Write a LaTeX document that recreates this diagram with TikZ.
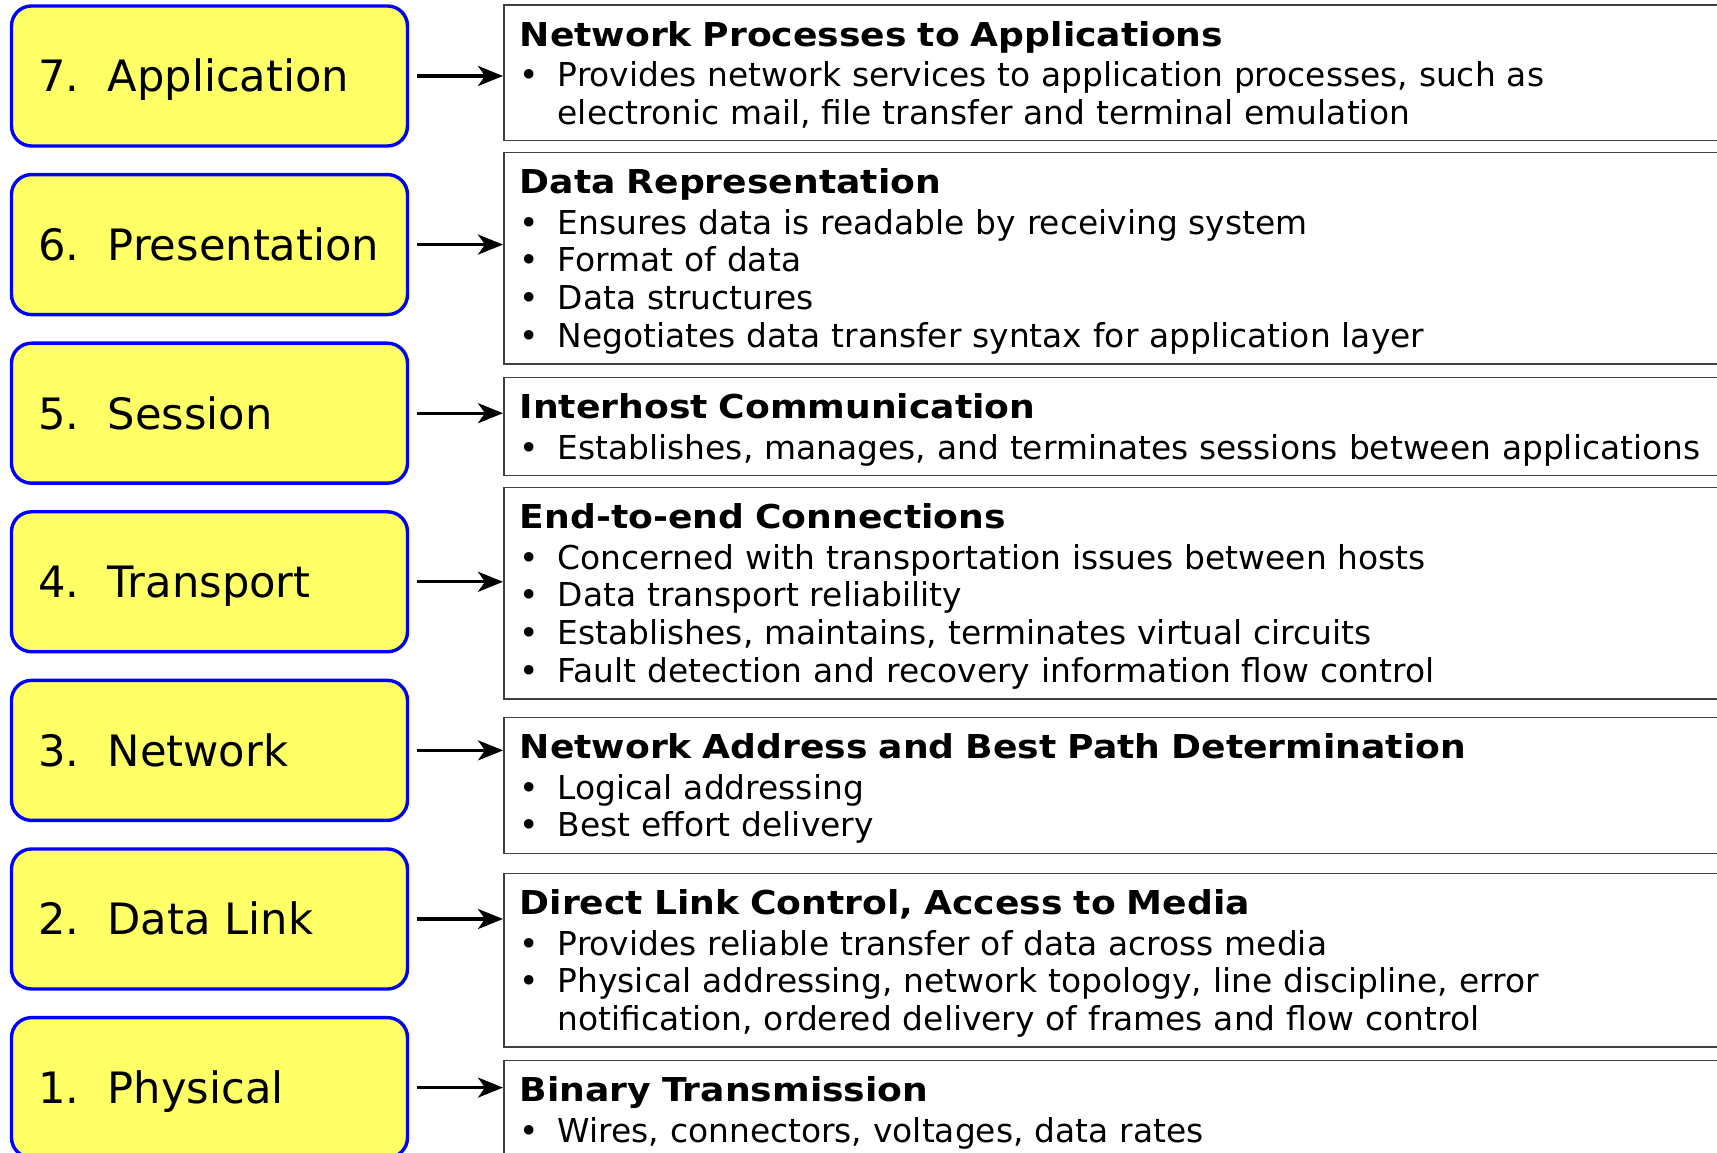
\documentclass[tikz,border=0pt]{standalone}
\usepackage{fontspec}
\setmainfont{DejaVu Sans}[BoldFeatures={FakeStretch=1.1}]
\usetikzlibrary{arrows.meta}
\definecolor{layerfill}{HTML}{FFFF66}
\newcommand{\bltitle}[1]{\rule{0pt}{0.36cm}\textbf{#1}\\[0.025cm]}
\newcommand{\blitem}{\strut\makebox[0.38cm][l]{\textbullet}}
\newcommand{\blcont}{\strut\hspace*{0.38cm}}
\begin{document}
\begin{tikzpicture}
    \tikzset{%
        lay/.style={draw=blue, fill=layerfill, line width=0.034cm, rounded corners=0.2cm,
            minimum width=3.96cm, minimum height=1.40cm,
            font=\fontsize{12.3}{14.7}\selectfont, text height=0.32cm, text depth=0pt},
        desc/.style={draw=black!75, line width=0.015cm, anchor=north west,
            inner xsep=0.16cm, inner ysep=0.05cm, text width=12.6cm, align=left,
            font=\fontsize{9.35}{10.77}\selectfont},
        e/.style={line width=0.033cm, -{Stealth[length=0.25cm,width=0.2cm,inset=0.07cm]},
            shorten <=0.08cm}%
        }
    \useasboundingbox (0,0) rectangle (17.17,-11.53);
    \clip (0,0) rectangle (17.17,-11.53);
    % layers
    \node[lay](l7)at(2.095,-0.760){\makebox[3.42cm][l]{7.\hspace{0.28cm}Application}};
    \node[lay](l6)at(2.095,-2.446){\makebox[3.42cm][l]{6.\hspace{0.28cm}Presentation}};
    \node[lay](l5)at(2.095,-4.132){\makebox[3.42cm][l]{5.\hspace{0.28cm}Session}};
    \node[lay](l4)at(2.095,-5.818){\makebox[3.42cm][l]{4.\hspace{0.28cm}Transport}};
    \node[lay](l3)at(2.095,-7.504){\makebox[3.42cm][l]{3.\hspace{0.28cm}Network}};
    \node[lay](l2)at(2.095,-9.190){\makebox[3.42cm][l]{2.\hspace{0.28cm}Data Link}};
    \node[lay](l1)at(2.095,-10.876){\makebox[3.42cm][l]{1.\hspace{0.28cm}Physical}};
    % descriptions
    \node[desc](d7)at(5.03,-0.044){\bltitle{Network Processes to Applications}
        \blitem Provides network services to application processes, such as\\
        \blcont electronic mail, file transfer and terminal emulation};
    \node[desc](d6)at(5.03,-1.52){\bltitle{Data Representation}
        \blitem Ensures data is readable by receiving system\\
        \blitem Format of data\\
        \blitem Data structures\\
        \blitem Negotiates data transfer syntax for application layer};
    \node[desc](d5)at(5.03,-3.77){\bltitle{Interhost Communication}
        \blitem Establishes, manages, and terminates sessions between applications};
    \node[desc](d4)at(5.03,-4.87){\bltitle{End-to-end Connections}
        \blitem Concerned with transportation issues between hosts\\
        \blitem Data transport reliability\\
        \blitem Establishes, maintains, terminates virtual circuits\\
        \blitem Fault detection and recovery information flow control};
    \node[desc](d3)at(5.03,-7.17){\bltitle{Network Address and Best Path Determination}
        \blitem Logical addressing\\
        \blitem Best effort delivery};
    \node[desc](d2)at(5.03,-8.73){\bltitle{Direct Link Control, Access to Media}
        \blitem Provides reliable transfer of data across media\\
        \blitem Physical addressing, network topology, line discipline, error\\
        \blcont notification, ordered delivery of frames and flow control};
    \node[desc](d1)at(5.03,-10.60){\bltitle{Binary Transmission}
        \blitem Wires, connectors, voltages, data rates\\
        \blcont};
    \path
    (l7.east)edge[e](l7.east -| d7.west)
    (l6.east)edge[e](l6.east -| d6.west)
    (l5.east)edge[e](l5.east -| d5.west)
    (l4.east)edge[e](l4.east -| d4.west)
    (l3.east)edge[e](l3.east -| d3.west)
    (l2.east)edge[e](l2.east -| d2.west)
    (l1.east)edge[e](l1.east -| d1.west);
\end{tikzpicture}
\end{document}
